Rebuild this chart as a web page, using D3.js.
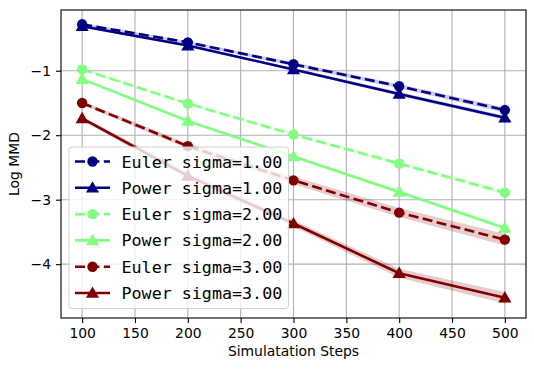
<!DOCTYPE html>
<html>
<head>
<meta charset="utf-8">
<script src="https://cdn.jsdelivr.net/npm/d3@7"></script>
<style>
  body { margin: 0; background: #fff; }
  text { font-family: "DejaVu Sans", sans-serif; }
</style>
</head>
<body>
<svg id="chart"></svg>
<script>
const steps = [100, 200, 300, 400, 500];
const xTicks = [100, 150, 200, 250, 300, 350, 400, 450, 500];
const yTicks = [-1, -2, -3, -4];

const seriesNames = ["Euler sigma=1.00", "Power sigma=1.00", "Euler sigma=2.00",
                     "Power sigma=2.00", "Euler sigma=3.00", "Power sigma=3.00"];
const eulerS1 = [-0.28, -0.56, -0.90, -1.24, -1.61];
const powerS1 = [-0.31, -0.61, -0.98, -1.36, -1.73];
const eulerS2 = [-0.98, -1.51, -1.99, -2.44, -2.89];
const powerS2 = [-1.13, -1.78, -2.33, -2.88, -3.44];
const eulerS3 = [-1.50, -2.17, -2.70, -3.20, -3.62];
const powerS3 = [-1.74, -2.63, -3.37, -4.14, -4.52];

const eulerS1Std = [0.02, 0.02, 0.03, 0.03, 0.04];
const powerS1Std = [0.02, 0.02, 0.02, 0.03, 0.03];
const eulerS2Std = [0.02, 0.02, 0.03, 0.03, 0.04];
const powerS2Std = [0.02, 0.02, 0.02, 0.03, 0.03];
const eulerS3Std = [0.03, 0.04, 0.06, 0.07, 0.09];
const powerS3Std = [0.03, 0.05, 0.05, 0.07, 0.09];

const WIDTH = 534;
const HEIGHT = 371;
const LEFT = 61, RIGHT = 526, TOP = 10, BOTTOM = 318;
const FONT_SIZE = 13.9;

const NAVY = "#000080", GREEN = "#80ff80", DARKRED = "#800000";

const series = [
    { name: seriesNames[0], vals: eulerS1, std: eulerS1Std, color: NAVY, euler: true },
    { name: seriesNames[1], vals: powerS1, std: powerS1Std, color: NAVY, euler: false },
    { name: seriesNames[2], vals: eulerS2, std: eulerS2Std, color: GREEN, euler: true },
    { name: seriesNames[3], vals: powerS2, std: powerS2Std, color: GREEN, euler: false },
    { name: seriesNames[4], vals: eulerS3, std: eulerS3Std, color: DARKRED, euler: true },
    { name: seriesNames[5], vals: powerS3, std: powerS3Std, color: DARKRED, euler: false }
];

const x = d3.scaleLinear().domain([80, 520]).range([LEFT, RIGHT]);
const y = d3.scaleLinear().domain([-4.835, -0.058]).range([BOTTOM, TOP]);

const svg = d3.select('#chart').attr('width', WIDTH).attr('height', HEIGHT);

// grid
const grid = svg.append('g');
grid.selectAll('.gx').data(xTicks).join('line')
    .attr('x1', d => x(d)).attr('x2', d => x(d))
    .attr('y1', TOP).attr('y2', BOTTOM)
    .attr('stroke', '#b0b0b0').attr('stroke-width', 1.1);
grid.selectAll('.gy').data(yTicks).join('line')
    .attr('x1', LEFT).attr('x2', RIGHT)
    .attr('y1', d => y(d)).attr('y2', d => y(d))
    .attr('stroke', '#b0b0b0').attr('stroke-width', 1.1);

const triangle = d3.symbol().type(d3.symbolTriangle).size(75);

const line = d3.line().x((d, i) => x(steps[i])).y(d => y(d));
const area = d3.area()
    .x((d, i) => x(steps[i]))
    .y0(d => y(d[0] - d[1]))
    .y1(d => y(d[0] + d[1]));

series.forEach(s => {
    const g = svg.append('g');
    g.append('path')
        .datum(s.vals.map((v, i) => [v, s.std[i]]))
        .attr('d', area)
        .attr('fill', s.color).attr('fill-opacity', 0.2);
    g.append('path')
        .datum(s.vals)
        .attr('d', line)
        .attr('fill', 'none')
        .attr('stroke', s.color)
        .attr('stroke-width', 2.6)
        .attr('stroke-dasharray', s.euler ? '10,4.4' : null);
    if (s.euler) {
        g.selectAll('circle').data(s.vals).join('circle')
            .attr('cx', (d, i) => x(steps[i])).attr('cy', d => y(d))
            .attr('r', 5.2).attr('fill', s.color);
    } else {
        g.selectAll('path.m').data(s.vals).join('path')
            .attr('class', 'm')
            .attr('transform', (d, i) => `translate(${x(steps[i])},${y(d) + 1})`)
            .attr('d', triangle).attr('fill', s.color);
    }
});

// axes frame
svg.append('rect')
    .attr('x', LEFT).attr('y', TOP)
    .attr('width', RIGHT - LEFT).attr('height', BOTTOM - TOP)
    .attr('fill', 'none').attr('stroke', '#000').attr('stroke-width', 1.1);

const xAxis = svg.append('g')
    .attr('transform', `translate(0,${BOTTOM})`)
    .call(d3.axisBottom(x).tickValues(xTicks).tickSize(5).tickPadding(5).tickFormat(d3.format('d')));
xAxis.select('.domain').remove();
xAxis.selectAll('line').attr('stroke-width', 1.1);
xAxis.selectAll('text').attr('font-size', FONT_SIZE).attr('fill', '#000')
    .attr('font-family', 'DejaVu Sans');

const yAxis = svg.append('g')
    .attr('transform', `translate(${LEFT},0)`)
    .call(d3.axisLeft(y).tickValues(yTicks).tickSize(5).tickPadding(5)
        .tickFormat(d => '\u2212' + Math.abs(d)));
yAxis.select('.domain').remove();
yAxis.selectAll('line').attr('stroke-width', 1.1);
yAxis.selectAll('text').attr('font-size', FONT_SIZE).attr('fill', '#000')
    .attr('font-family', 'DejaVu Sans');

svg.append('text')
    .attr('x', (LEFT + RIGHT) / 2).attr('y', 356)
    .attr('text-anchor', 'middle').attr('font-size', FONT_SIZE)
    .text('Simulatation Steps');

svg.append('text')
    .attr('transform', `translate(19,${(TOP + BOTTOM) / 2}) rotate(-90)`)
    .attr('text-anchor', 'middle').attr('font-size', FONT_SIZE)
    .text('Log MMD');

// legend
const legend = svg.append('g');
legend.append('rect')
    .attr('x', 69).attr('y', 147).attr('width', 219.5).attr('height', 161.5)
    .attr('rx', 3).attr('fill', '#fff').attr('fill-opacity', 0.8)
    .attr('stroke', '#d0d0d0').attr('stroke-width', 1);

const rows = legend.selectAll('.row').data(series).join('g')
    .attr('transform', (d, i) => `translate(0,${161.5 + i * 26.3})`);
rows.append('line')
    .attr('x1', 75).attr('x2', 110).attr('y1', 0).attr('y2', 0)
    .attr('stroke', d => d.color).attr('stroke-width', 2.6)
    .attr('stroke-dasharray', d => d.euler ? '10,4.4' : null);
rows.filter(d => d.euler).append('circle')
    .attr('cx', 92.5).attr('cy', 0).attr('r', 5.2).attr('fill', d => d.color);
rows.filter(d => !d.euler).append('path')
    .attr('transform', 'translate(92.5,1)')
    .attr('d', triangle).attr('fill', d => d.color);
rows.append('text')
    .attr('x', 121.5).attr('y', 0).attr('dy', '0.36em')
    .attr('font-size', 16.7)
    .style('font-family', '"DejaVu Sans Mono", monospace')
    .text(d => d.name);
</script>
</body>
</html>
